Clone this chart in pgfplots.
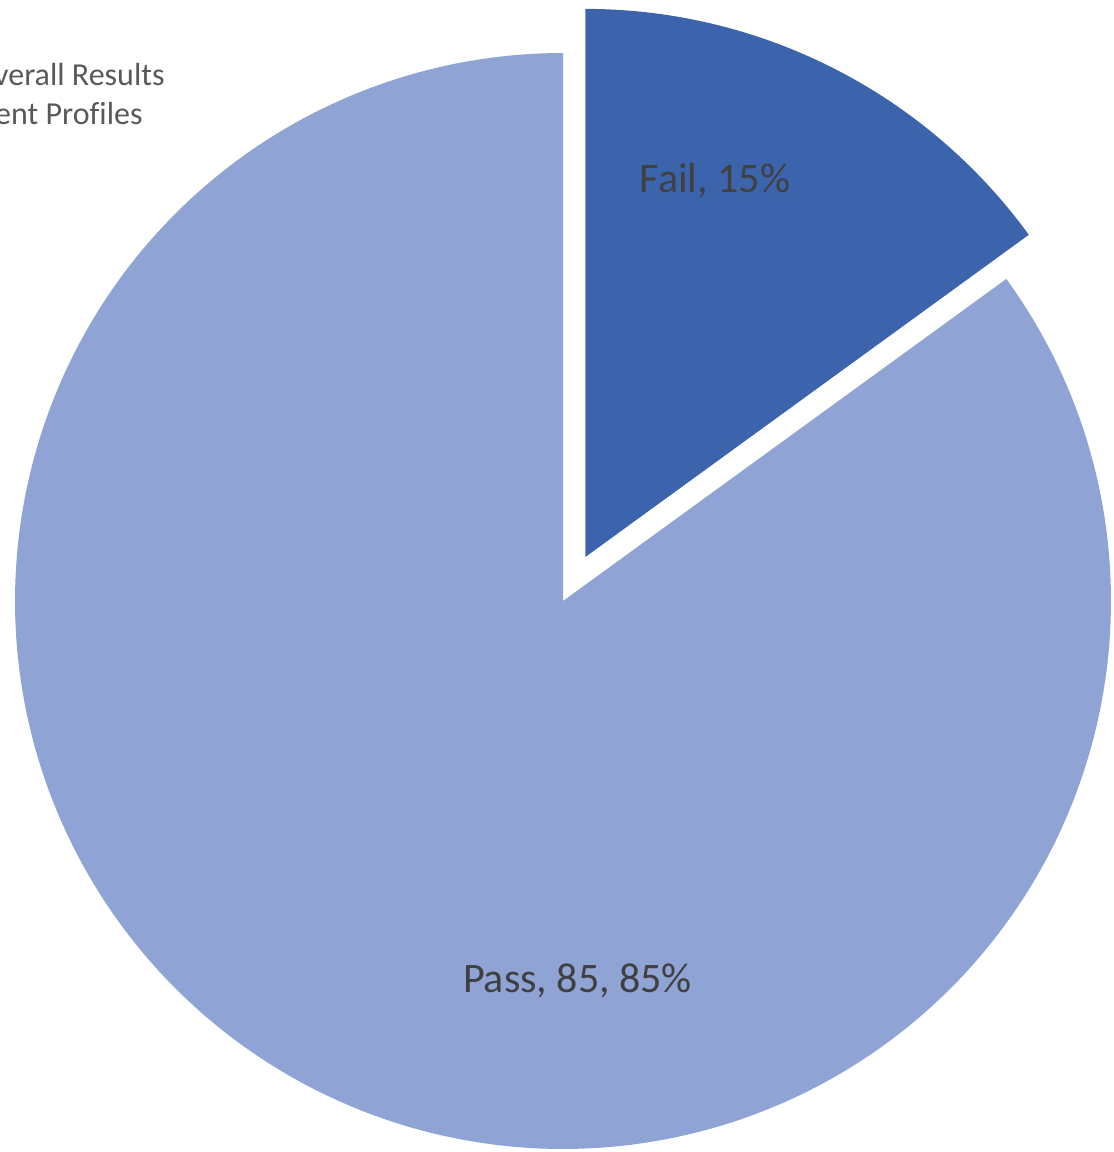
\documentclass[border=0pt]{standalone}
\usepackage{pgfplots}
\usepackage{pgfplotstable}
\pgfplotsset{compat=1.18}
\usepackage{fontspec}
\setmainfont{Carlito}[Ligatures=NoCommon]

\definecolor{failblue}{HTML}{3C64AC}
\definecolor{passblue}{HTML}{8FA3D4}
\definecolor{labelgray}{HTML}{404040}
\definecolor{titlegray}{HTML}{595959}

\pgfplotstableread{
label value
Pass 85
Fail 15
}\piedata
\pgfplotstablegetelem{0}{value}\of\piedata \let\passval\pgfplotsretval
\pgfplotstablegetelem{1}{value}\of\piedata \let\failval\pgfplotsretval
% slices start at 12 o'clock and go clockwise
\pgfmathsetmacro\failend{90-3.6*\failval}
\pgfmathsetmacro\passend{\failend-3.6*\passval}
\pgfmathsetmacro\failmid{(90+\failend)/2}
% the Fail slice is pulled out along its bisector
\pgfmathsetmacro\failcx{563+49.5*cos(\failmid)}
\pgfmathsetmacro\failcy{551+49.5*sin(\failmid)}

\begin{document}
\begin{tikzpicture}
\clip (0,0) rectangle (557pt,576pt);
\begin{axis}[
    at={(0,0)}, anchor=south west,
    scale only axis,
    width=557pt, height=576pt,
    xmin=0, xmax=1114, ymin=0, ymax=1152,
    axis lines=none, ticks=none,
    clip=false,
]
% Pass
\addplot[fill=passblue, draw=none, domain=\passend:\failend, samples=361, variable=\t]
    ({563+548*cos(t)}, {551+548*sin(t)}) -- (563,551) -- cycle;
% Fail
\addplot[fill=failblue, draw=none, domain=\failend:90, samples=120, variable=\t]
    ({\failcx+548*cos(t)}, {\failcy+548*sin(t)}) -- (\failcx,\failcy) -- cycle;

\node[anchor=base, text=labelgray, font=\fontsize{21pt}{25pt}\selectfont]
    at (715,959) {Fail, 15\%};
\node[anchor=base, text=labelgray, font=\fontsize{21pt}{25pt}\selectfont]
    at (577.5,159) {Pass, 85, 85\%};

% title is cut off at the left edge, as in the original
\node[anchor=base east, text=titlegray, font=\fontsize{16pt}{19pt}\selectfont, inner sep=0pt]
    at (165,1066) {Overall Results};
\node[anchor=base east, text=titlegray, font=\fontsize{16pt}{19pt}\selectfont, inner sep=0pt]
    at (143,1027) {Student Profiles};
\end{axis}
\end{tikzpicture}
\end{document}
